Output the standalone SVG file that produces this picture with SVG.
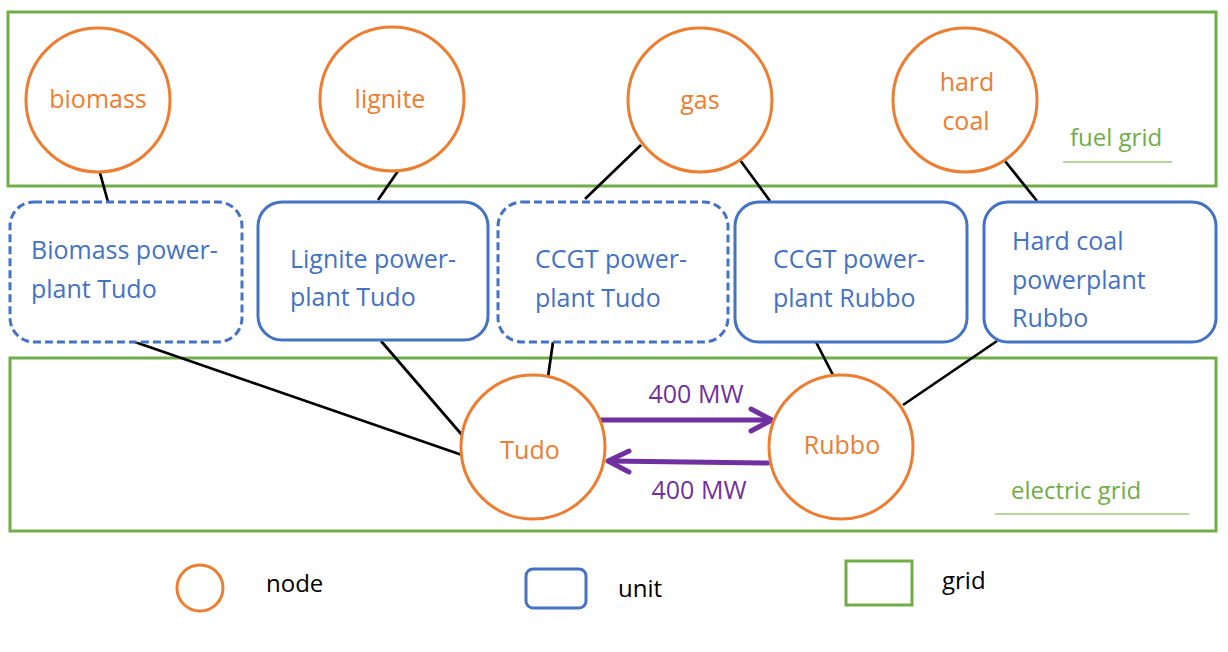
<svg xmlns="http://www.w3.org/2000/svg" width="1228" height="652" viewBox="0 0 1228 652">
<defs>
<style>
.grid{fill:none;stroke:#70AD47;stroke-width:3}
.node{fill:#fff;stroke:#ED7D31;stroke-width:3}
.unit{fill:#fff;stroke:#4472C4;stroke-width:3}
.dash{stroke-dasharray:8 4}
.nt{font-family:"Open Sans","Noto Sans",sans-serif;font-size:25px;fill:#ED7D31;text-anchor:middle}
.ut{font-family:"Open Sans","Noto Sans",sans-serif;font-size:25px;fill:#4472C4}
.gt{font-family:"Open Sans","Noto Sans",sans-serif;font-size:24px;fill:#70AD47}
.ft{font-family:"Open Sans","Noto Sans",sans-serif;font-size:25px;fill:#7030A0;text-anchor:middle}
.lt{font-family:"Open Sans","Noto Sans",sans-serif;font-size:24px;fill:#000}
.ln{stroke:#000;stroke-width:2.7;fill:none}
.fl{stroke:#7030A0;stroke-width:5;fill:none;stroke-linecap:round;stroke-linejoin:round}
</style>
</defs>
<rect width="1228" height="652" fill="#fff"/>
<g id="fuel-grid">
<rect class="grid" x="8" y="12" width="1208" height="174"/>
<text class="gt" x="1070" y="146">fuel grid</text>
<line x1="1063" y1="162" x2="1172" y2="162" stroke="#70AD47" stroke-width="1.2"/>
</g>
<g id="electric-grid">
<rect class="grid" x="10" y="358" width="1206" height="173"/>
<text class="gt" x="1011" y="499">electric grid</text>
<line x1="995" y1="514" x2="1189" y2="514" stroke="#70AD47" stroke-width="1.2"/>
</g>
<g id="connectors">
<line class="ln" x1="100" y1="173" x2="108" y2="202"/>
<line class="ln" x1="398" y1="171" x2="378" y2="200"/>
<line class="ln" x1="641" y1="145" x2="585" y2="199"/>
<line class="ln" x1="740" y1="160" x2="770" y2="201"/>
<line class="ln" x1="1005" y1="161" x2="1037" y2="201"/>
<line class="ln" x1="132" y1="341" x2="462" y2="455"/>
<line class="ln" x1="381" y1="341" x2="462" y2="435"/>
<line class="ln" x1="553" y1="342" x2="548" y2="377"/>
<line class="ln" x1="816" y1="342" x2="833" y2="375"/>
<line class="ln" x1="997" y1="341" x2="903" y2="405"/>
<g id="flow-tudo-rubbo">
<line class="fl" x1="600" y1="420" x2="771" y2="420"/>
<polyline class="fl" points="751,409 772,420 751,431"/>
<text class="ft" x="696" y="403">400 MW</text>
</g>
<g id="flow-rubbo-tudo">
<line class="fl" x1="768" y1="463" x2="609" y2="461"/>
<polyline class="fl" points="629,451 608,461 629,472"/>
<text class="ft" x="699" y="499">400 MW</text>
</g>
</g>
<g id="node-biomass"><circle class="node" cx="98" cy="100" r="72"/><text class="nt" x="98" y="108">biomass</text></g>
<g id="node-lignite"><circle class="node" cx="392" cy="99" r="72"/><text class="nt" x="390" y="108">lignite</text></g>
<g id="node-gas"><circle class="node" cx="700" cy="100" r="72"/><text class="nt" x="700" y="109">gas</text></g>
<g id="node-hardcoal"><circle class="node" cx="965" cy="100" r="72"/><text class="nt" x="967" y="91">hard</text><text class="nt" x="966" y="130">coal</text></g>
<g id="unit-biomass"><rect class="unit dash" x="10" y="202" width="232" height="140" rx="24"/><text class="ut" x="31" y="259">Biomass power-</text><text class="ut" x="31" y="298">plant Tudo</text></g>
<g id="unit-lignite"><rect class="unit" x="258" y="202" width="230" height="138" rx="24"/><text class="ut" x="290" y="268">Lignite power-</text><text class="ut" x="290" y="306">plant Tudo</text></g>
<g id="unit-ccgt-tudo"><rect class="unit dash" x="498" y="202" width="230" height="140" rx="24"/><text class="ut" x="535" y="268">CCGT power-</text><text class="ut" x="535" y="307">plant Tudo</text></g>
<g id="unit-ccgt-rubbo"><rect class="unit" x="735" y="202" width="232" height="140" rx="24"/><text class="ut" x="773" y="268">CCGT power-</text><text class="ut" x="773" y="307">plant Rubbo</text></g>
<g id="unit-hardcoal-rubbo"><rect class="unit" x="984" y="202" width="232" height="140" rx="24"/><text class="ut" x="1012" y="250">Hard coal</text><text class="ut" x="1012" y="289">powerplant</text><text class="ut" x="1012" y="327">Rubbo</text></g>
<g id="node-tudo"><circle class="node" cx="533" cy="447" r="72"/><text class="nt" x="530" y="459">Tudo</text></g>
<g id="node-rubbo"><circle class="node" cx="841" cy="447" r="72"/><text class="nt" x="842" y="454">Rubbo</text></g>
<g id="legend">
<ellipse class="node" cx="200" cy="588" rx="23" ry="23"/><text class="lt" x="266" y="592">node</text>
<rect class="unit" x="526" y="569" width="60" height="39" rx="7"/><text class="lt" x="618" y="597">unit</text>
<rect class="grid" x="846" y="561" width="66" height="44"/><text class="lt" x="942" y="589">grid</text>
</g>
</svg>
